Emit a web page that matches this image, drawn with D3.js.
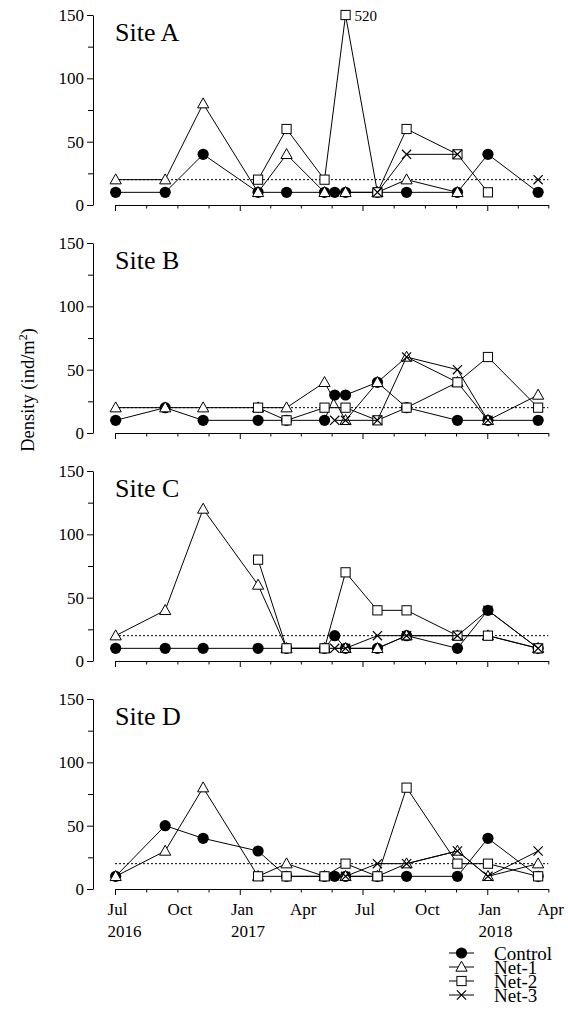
<!DOCTYPE html>
<html>
<head>
<meta charset="utf-8">
<script src="https://cdn.jsdelivr.net/npm/d3@7"></script>
<style>
  html, body { margin: 0; padding: 0; background: #fff; }
  svg { display: block; }
  text { font-family: "Liberation Serif", "Times New Roman", Times, serif; fill: #000; }
</style>
</head>
<body>
<svg id="chart" width="568" height="1016"></svg>
<script>
// ---------------- DATA ----------------
// null = not sampled at that date (line continues), NaN = missing value (line breaks)
const sampleDates = ["2016-07-02","2016-09-13","2016-11-08","2017-01-28","2017-03-11","2017-05-06",
                     "2017-05-21","2017-06-06","2017-07-23","2017-09-04","2017-11-18","2018-01-02","2018-03-17"];
const sites = ["Site A", "Site B", "Site C", "Site D"];
const seriesNames = ["Control", "Net-1", "Net-2", "Net-3"];

const controlA = [10,10,40,10,10,10,10,10,10,10,10,40,10];
const net1A    = [20,20,80,10,40,10,null,10,10,20,10,null,null];
const net2A    = [null,null,null,20,60,20,null,520,10,60,40,10,null];
const net3A    = [null,null,null,null,null,null,null,null,10,40,40,NaN,20];

const controlB = [10,20,10,10,10,10,30,30,40,20,10,10,10];
const net1B    = [20,20,20,20,20,40,null,10,40,60,40,10,30];
const net2B    = [null,null,null,20,10,20,null,20,10,20,40,60,20];
const net3B    = [null,null,null,null,null,null,10,10,10,60,50,10,null];

const controlC = [10,10,10,10,10,10,20,10,10,20,10,40,10];
const net1C    = [20,40,120,60,10,10,null,10,10,20,20,20,10];
const net2C    = [null,null,null,80,10,10,null,70,40,40,20,20,10];
const net3C    = [null,null,null,null,null,null,10,10,20,20,20,40,10];

const controlD = [10,50,40,30,10,10,10,10,10,10,10,40,10];
const net1D    = [10,30,80,10,20,10,null,10,10,20,30,10,20];
const net2D    = [null,null,null,10,10,10,null,20,10,80,20,20,10];
const net3D    = [null,null,null,null,null,null,null,10,20,20,30,10,30];

const siteSeries = [
  [controlA, net1A, net2A, net3A],
  [controlB, net1B, net2B, net3B],
  [controlC, net1C, net2C, net3C],
  [controlD, net1D, net2D, net3D]
];

const yTicks = [0, 50, 100, 150];
const yMinorTicks = [25, 75, 125];
const referenceLevel = 20;
const xTickDates = ["2016-07-01","2016-10-01","2017-01-01","2017-04-01","2017-07-01","2017-10-01","2018-01-01","2018-04-01"];
const xTickLabels = [["Jul","2016"],["Oct"],["Jan","2017"],["Apr"],["Jul"],["Oct"],["Jan","2018"],["Apr"]];
const yLabel = "Density (ind/m";

// ---------------- LAYOUT ----------------
const FONT = "Liberation Serif, Times New Roman, Times, serif";
const parse = d3.timeParse("%Y-%m-%d");
const dates = sampleDates.map(parse);
const tickDates = xTickDates.map(parse);
const svg = d3.select("#chart");

const x = d3.scaleTime()
  .domain([parse("2016-07-01"), parse("2018-04-01")])
  .range([115, 548.3]);

const minorDates = [];
for (let i = 0; i < tickDates.length - 1; i++) {
  minorDates.push(new Date((tickDates[i].getTime() + tickDates[i + 1].getTime()) / 2));
}
const halfYearDates = tickDates.filter(d => d.getMonth() === 0 || d.getMonth() === 6);
const quarterOnly = tickDates.filter(d => !(d.getMonth() === 0 || d.getMonth() === 6));

const panelTop0 = 15, panelStep = 228, panelH = 190, yAxisX = 93;

function drawMarker(g, type, cx, cy) {
  if (type === 0) {
    g.append("circle").attr("cx", cx).attr("cy", cy).attr("r", 5.6).attr("fill", "#000");
  } else if (type === 1) {
    g.append("path")
      .attr("d", `M${cx},${cy - 5.8}L${cx + 5.6},${cy + 4.2}L${cx - 5.6},${cy + 4.2}Z`)
      .attr("fill", "#fff").attr("stroke", "#000").attr("stroke-width", 1);
  } else if (type === 2) {
    g.append("rect").attr("x", cx - 4.6).attr("y", cy - 4.6).attr("width", 9.2).attr("height", 9.2)
      .attr("fill", "#fff").attr("stroke", "#000").attr("stroke-width", 1);
  } else {
    const s = 4.6;
    g.append("path")
      .attr("d", `M${cx - s},${cy - s}L${cx + s},${cy + s}M${cx + s},${cy - s}L${cx - s},${cy + s}`)
      .attr("fill", "none").attr("stroke", "#000").attr("stroke-width", 1.2);
  }
}

sites.forEach((site, si) => {
  const top = panelTop0 + si * panelStep;
  const y = d3.scaleLinear().domain([0, 150]).range([top + panelH, top]).clamp(true);
  const g = svg.append("g");

  // Y axis
  const yAxis = g.append("g").attr("transform", `translate(${yAxisX},0)`)
    .call(d3.axisLeft(y).tickValues(yTicks).tickSize(6).tickSizeOuter(0).tickPadding(3));
  yAxis.attr("font-family", FONT);
  yAxis.selectAll("text").attr("font-size", 17).attr("font-family", FONT);
  g.append("g").attr("transform", `translate(${yAxisX},0)`)
    .call(d3.axisLeft(y).tickValues(yMinorTicks).tickSize(5).tickSizeOuter(0).tickFormat(""))
    .select(".domain").remove();

  // X axis
  const xBase = top + panelH;
  g.append("g").attr("transform", `translate(0,${xBase})`)
    .call(d3.axisBottom(x).tickValues(minorDates.concat(quarterOnly)).tickSize(3.5).tickSizeOuter(0).tickFormat(""));
  g.append("g").attr("transform", `translate(0,${xBase})`)
    .call(d3.axisBottom(x).tickValues(halfYearDates).tickSize(6).tickSizeOuter(0).tickFormat(""))
    .select(".domain").remove();

  if (si === sites.length - 1) {
    const lab = g.append("g");
    tickDates.forEach((d, i) => {
      const cx = x(d) + 2.5;
      const t1 = lab.append("text").attr("x", cx).attr("y", xBase + 26)
        .attr("text-anchor", "middle").attr("font-size", 17).attr("font-family", FONT)
        .text(xTickLabels[i][0]);
      if (xTickLabels[i].length > 1) {
        const w = t1.node().getComputedTextLength();
        lab.append("text").attr("x", cx - w / 2).attr("y", xBase + 48)
          .attr("text-anchor", "start").attr("font-size", 17).attr("font-family", FONT)
          .text(xTickLabels[i][1]);
      }
    });
  }

  g.selectAll(".domain, .tick line").attr("stroke", "#000").attr("stroke-width", 1);

  // reference dotted line
  g.append("line")
    .attr("x1", x.range()[0]).attr("x2", x.range()[1])
    .attr("y1", y(referenceLevel)).attr("y2", y(referenceLevel))
    .attr("stroke", "#000").attr("stroke-width", 1).attr("stroke-dasharray", "2,2");

  // site label
  g.append("text").attr("x", 115).attr("y", top + 25.5).attr("font-size", 26)
    .attr("font-family", FONT).text(site);

  // series
  siteSeries[si].forEach((vals, k) => {
    const pts = vals.map((v, i) => ({ d: dates[i], v })).filter(p => p.v !== null);
    const line = d3.line().defined(p => !Number.isNaN(p.v)).x(p => x(p.d)).y(p => y(p.v));
    g.append("path").attr("d", line(pts)).attr("fill", "none")
      .attr("stroke", "#000").attr("stroke-width", 1);
    const mg = g.append("g");
    pts.filter(p => !Number.isNaN(p.v)).forEach(p => {
      drawMarker(mg, k, x(p.d), y(p.v));
      if (p.v > 150) {
        g.append("text").attr("x", x(p.d) + 9).attr("y", y(p.v) + 5.5)
          .attr("font-size", 15).attr("font-family", FONT).text(p.v);
      }
    });
  });
});

// Y axis title
const yt = svg.append("text")
  .attr("transform", "translate(34,390) rotate(-90)")
  .attr("text-anchor", "middle").attr("font-size", 18.5).attr("font-family", FONT);
yt.append("tspan").text(yLabel);
yt.append("tspan").attr("font-size", 12).attr("dy", -7).text("2");
yt.append("tspan").attr("dy", 7).text(")");

// Legend
const legend = svg.append("g");
seriesNames.forEach((name, k) => {
  const cy = 953 + k * 14;
  legend.append("line").attr("x1", 449).attr("x2", 474).attr("y1", cy).attr("y2", cy)
    .attr("stroke", "#000").attr("stroke-width", 1);
  drawMarker(legend, k, 461.5, cy);
  legend.append("text").attr("x", 494).attr("y", cy + 6.5).attr("font-size", 19)
    .attr("font-family", FONT).text(name);
});
</script>
</body>
</html>
